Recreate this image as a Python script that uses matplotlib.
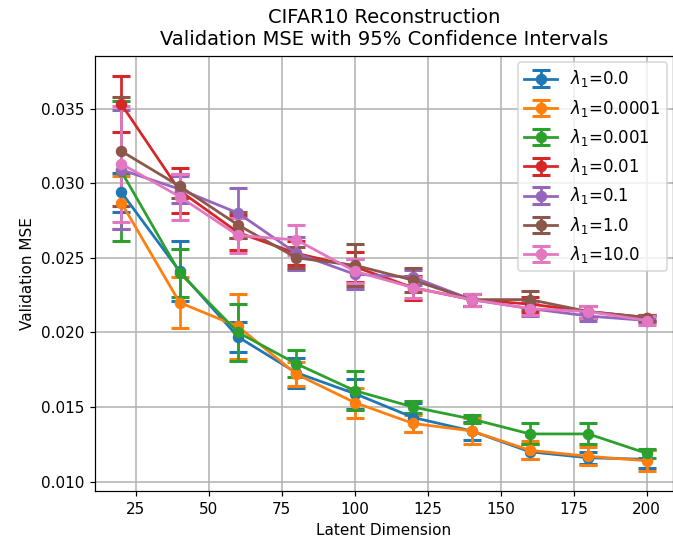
import matplotlib
matplotlib.use("Agg")
import matplotlib.pyplot as plt

latent_dims = [20, 40, 60, 80, 100, 120, 140, 160, 180, 200]
lambda_labels = ["0.0", "0.0001", "0.001", "0.01", "0.1", "1.0", "10.0"]

mse_l0 = [0.0294, 0.0241, 0.0197, 0.0173, 0.0159, 0.0143, 0.0134, 0.0120, 0.0116, 0.0115]
ci_l0 = [0.0013, 0.0020, 0.0010, 0.0010, 0.0010, 0.0010, 0.0006, 0.0005, 0.0004, 0.0006]

mse_l1 = [0.0287, 0.0220, 0.0204, 0.0172, 0.0153, 0.0139, 0.0134, 0.0121, 0.0117, 0.0114]
ci_l1 = [0.0018, 0.0017, 0.0022, 0.0008, 0.0010, 0.0006, 0.0009, 0.0006, 0.0006, 0.0007]

mse_l2 = [0.0308, 0.0240, 0.0200, 0.0179, 0.0161, 0.0150, 0.0142, 0.0132, 0.0132, 0.0119]
ci_l2 = [0.0047, 0.0016, 0.0019, 0.0009, 0.0013, 0.0004, 0.0003, 0.0007, 0.0007, 0.0003]

mse_l3 = [0.0353, 0.0295, 0.0267, 0.0253, 0.0244, 0.0230, 0.0222, 0.0219, 0.0214, 0.0210]
ci_l3 = [0.0019, 0.0015, 0.0012, 0.0008, 0.0010, 0.0008, 0.0004, 0.0005, 0.0004, 0.0002]

mse_l4 = [0.0309, 0.0296, 0.0280, 0.0253, 0.0239, 0.0237, 0.0222, 0.0216, 0.0211, 0.0208]
ci_l4 = [0.0040, 0.0009, 0.0017, 0.0011, 0.0010, 0.0005, 0.0004, 0.0005, 0.0003, 0.0002]

mse_l5 = [0.03215, 0.0298, 0.0272, 0.0250, 0.0245, 0.0235, 0.0222, 0.0222, 0.0214, 0.0210]
ci_l5 = [0.00365, 0.0008, 0.0009, 0.0007, 0.0014, 0.0008, 0.0004, 0.0006, 0.0004, 0.0002]

mse_l6 = [0.0313, 0.0291, 0.0265, 0.0262, 0.0241, 0.0230, 0.0222, 0.0216, 0.0214, 0.0208]
ci_l6 = [0.0039, 0.00155, 0.0012, 0.0010, 0.0008, 0.0007, 0.0004, 0.0004, 0.0004, 0.0003]

means = [mse_l0, mse_l1, mse_l2, mse_l3, mse_l4, mse_l5, mse_l6]
cis = [ci_l0, ci_l1, ci_l2, ci_l3, ci_l4, ci_l5, ci_l6]

fig = plt.figure(figsize=(673 / 110, 546 / 110), dpi=110)
ax = fig.add_axes([95 / 673, 55 / 546, 578 / 673, 435 / 546])

for lab, m, c in zip(lambda_labels, means, cis):
    ax.errorbar(latent_dims, m, yerr=c, marker="o", markersize=6.5, linewidth=1.8,
                elinewidth=1.8, capsize=6, capthick=2, label=r"$\lambda_1$=" + lab)

ax.set_title("CIFAR10 Reconstruction\nValidation MSE with 95% Confidence Intervals",
             fontsize=12.8, pad=7)
ax.set_xlabel("Latent Dimension")
ax.set_ylabel("Validation MSE")
ax.grid(True, color="#b0b0b0", linewidth=1.0)
ax.legend(loc="upper right", fontsize=10.8, borderaxespad=0.35)

fig.savefig("out.png", dpi=110)
